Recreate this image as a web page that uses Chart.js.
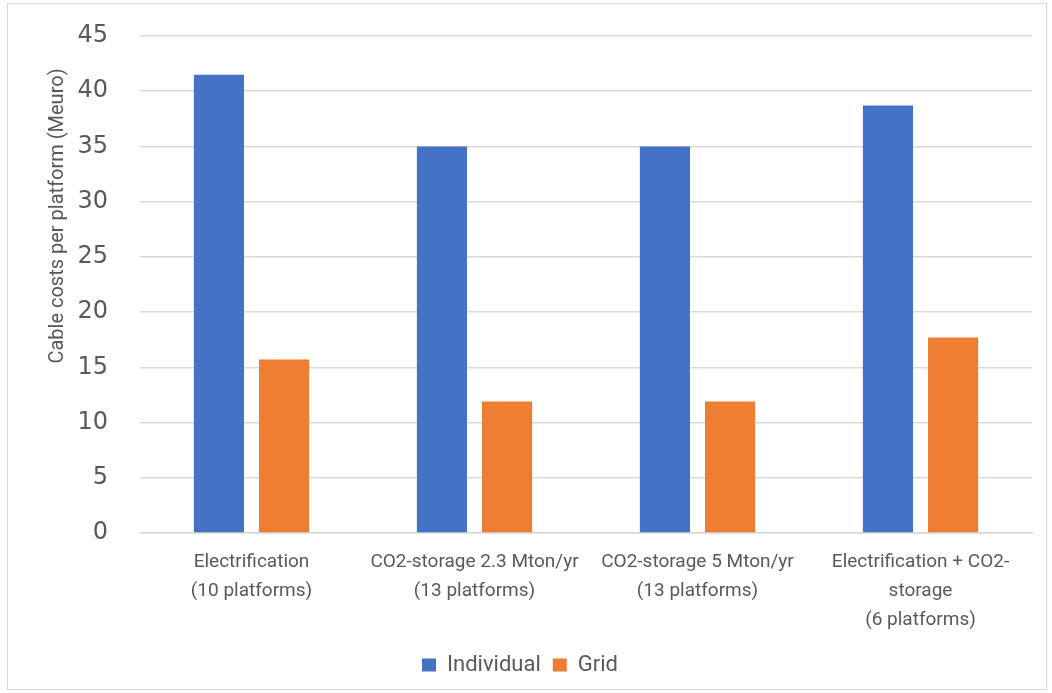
<!DOCTYPE html>
<html>
<head>
<meta charset="utf-8">
<script src="https://cdn.jsdelivr.net/npm/chart.js@4"></script>
<style>
  body { margin: 0; background: #fff; }
  #box { position: absolute; left: 7px; top: 3px; width: 1038px; height: 685px; border: 1px solid #d9d9d9; }
</style>
</head>
<body>
<div id="box"><canvas id="costChart" width="1038" height="685"></canvas></div>
<script>
// categories and values (Meuro per platform)
var categories = [
  ["Electrification", "(10 platforms)"],
  ["CO2-storage 2.3 Mton/yr", "(13 platforms)"],
  ["CO2-storage 5 Mton/yr", "(13 platforms)"],
  ["Electrification + CO2-", "storage", "(6 platforms)"]
];
var individual = [41.5, 35.0, 35.0, 38.7];
var grid = [15.7, 11.9, 11.9, 17.7];
var yTicks = [0, 5, 10, 15, 20, 25, 30, 35, 40, 45];

var textGrey = "#595959";
var sans = "'Roboto', sans-serif";

// y axis title, drawn a bit above centre like the original
var yTitle = {
  id: "yTitle",
  afterDraw: function(chart) {
    var c = chart.ctx;
    c.save();
    c.translate(50, 212);
    c.rotate(-Math.PI / 2);
    c.font = "20px " + sans;
    c.fillStyle = textGrey;
    c.textAlign = "center";
    c.textBaseline = "middle";
    c.fillText("Cable costs per platform (Meuro)", 0, 0);
    c.restore();
  }
};

new Chart(document.getElementById("costChart"), {
  type: "bar",
  data: {
    labels: categories,
    datasets: [
      { label: "Individual", data: individual, backgroundColor: "#4472c4",
        barPercentage: 0.77, categoryPercentage: 0.584 },
      { label: "Grid", data: grid, backgroundColor: "#ed7d31",
        barPercentage: 0.77, categoryPercentage: 0.584 }
    ]
  },
  options: {
    responsive: false,
    animation: false,
    layout: { autoPadding: false, padding: { top: 32, right: 14, bottom: 3, left: 0 } },
    plugins: {
      legend: {
        position: "bottom",
        labels: {
          color: textGrey,
          font: { size: 22, family: sans },
          boxWidth: 14, boxHeight: 13, padding: 12
        }
      },
      tooltip: { enabled: false }
    },
    scales: {
      x: {
        grid: { display: false },
        border: { color: "#d9d9d9", width: 1.5 },
        ticks: {
          color: textGrey, font: { size: 19, family: sans, lineHeight: 1.53 },
          padding: 7, maxRotation: 0, autoSkip: false
        },
        afterFit: function(s) { s.height = 109; }
      },
      y: {
        min: 0, max: 45,
        afterBuildTicks: function(s) { s.ticks = yTicks.map(function(v) { return { value: v }; }); },
        grid: { color: "#d9d9d9", lineWidth: 1.5, drawTicks: false },
        border: { display: false },
        ticks: { color: textGrey, font: { size: 24, family: "'DejaVu Sans', sans-serif" }, padding: 32 },
        afterFit: function(s) { s.width = 132; s.paddingTop = 0; s.paddingBottom = 0; }
      }
    }
  },
  plugins: [yTitle]
});
</script>
</body>
</html>
